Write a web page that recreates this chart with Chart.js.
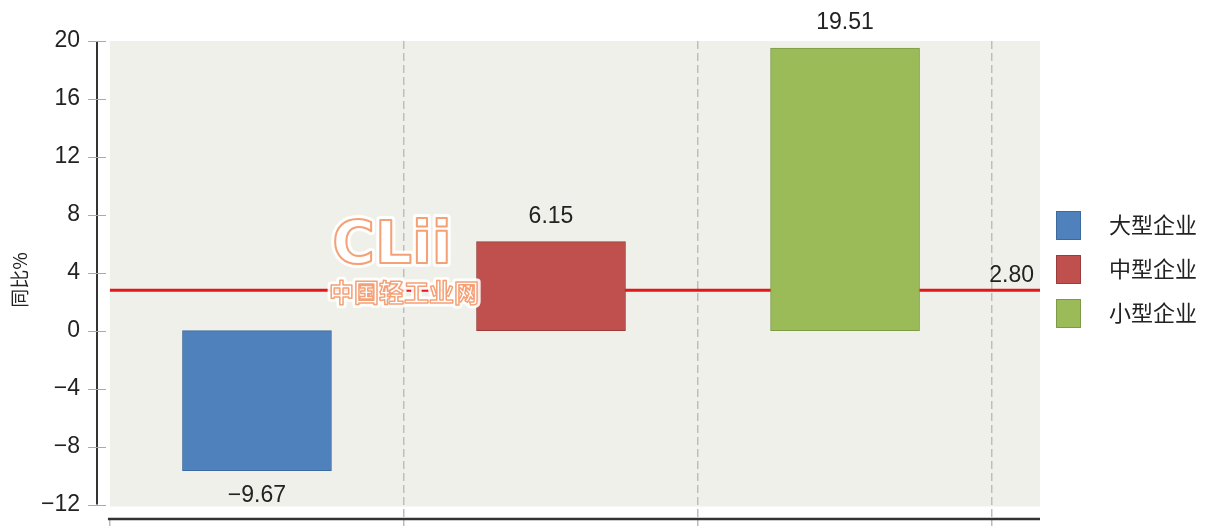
<!DOCTYPE html>
<html>
<head>
<meta charset="utf-8">
<script src="https://cdn.jsdelivr.net/npm/chart.js@4.4.0/dist/chart.umd.min.js"></script>
<style>
    html, body { margin: 0; padding: 0; background: #fff; }
    #wrap { width: 1212px; height: 529px; }
</style>
</head>
<body>
<div id="wrap"><canvas id="growthChart" width="1212" height="529"></canvas></div>
<script>
// Chart data
const categories = ['大型企业', '中型企业', '小型企业'];
const growthValues = [-9.67, 6.15, 19.51];
const categoryPositions = [0.5, 1.5, 2.5];
const averageValue = 2.80;
const yTicks = [-12, -8, -4, 0, 4, 8, 12, 16, 20];
const xTicks = [0, 1, 2, 3];
const barColors = ['#4f81bd', '#c0504d', '#9bbb59'];
const barBorders = ['#3d6a9e', '#9c3c3a', '#7d9a45'];
const yAxisTitle = '同比%';

// Axis ranges
const yMin = -13, yMax = 20;
const xMin = -0.044, xMax = 3.163;

const numFont = "'Liberation Sans', sans-serif";
const cjkFont = "'Noto Sans CJK SC', sans-serif";

// Grey plot area, starts at x = 0
const plotBackground = {
    id: 'plotBackground',
    beforeDraw(chart) {
        const { ctx, chartArea, scales: { x, y } } = chart;
        ctx.save();
        ctx.fillStyle = '#f0f0ea';
        const left = x.getPixelForValue(0);
        ctx.fillRect(left, chartArea.top, chartArea.right - left, y.getPixelForValue(-12) + 2 - chartArea.top);
        ctx.restore();
    }
};

// Separate y and x axis lines with crossing tick marks
const axisLines = {
    id: 'axisLines',
    afterDraw(chart) {
        const { ctx, chartArea, scales: { x, y } } = chart;
        ctx.save();
        ctx.strokeStyle = '#333';
        ctx.lineWidth = 2;
        ctx.beginPath();
        ctx.moveTo(chartArea.left, y.getPixelForValue(yTicks[yTicks.length - 1]));
        ctx.lineTo(chartArea.left, y.getPixelForValue(yTicks[0]));
        ctx.stroke();

        ctx.strokeStyle = '#aaa';
        ctx.lineWidth = 1;
        yTicks.forEach(v => {
            const py = Math.round(y.getPixelForValue(v)) + 0.5;
            ctx.beginPath();
            ctx.moveTo(chartArea.left - 9, py);
            ctx.lineTo(chartArea.left + 9, py);
            ctx.stroke();
        });

        ctx.strokeStyle = '#333';
        ctx.lineWidth = 2.5;
        ctx.beginPath();
        ctx.moveTo(x.getPixelForValue(0) - 2, chartArea.bottom);
        ctx.lineTo(chartArea.right, chartArea.bottom);
        ctx.stroke();
        ctx.restore();
    }
};

// Value labels, average label, watermark and legend
const annotations = {
    id: 'annotations',
    afterDatasetsDraw(chart) {
        const { ctx, chartArea, scales: { y } } = chart;
        ctx.save();
        ctx.fillStyle = '#222';
        ctx.font = '23px ' + numFont;
        ctx.textAlign = 'center';
        ctx.textBaseline = 'middle';
        growthValues.forEach((v, i) => {
            const bar = chart.getDatasetMeta(i + 1).data[0];
            const py = v >= 0 ? bar.y - 25 : bar.y + 25;
            ctx.fillText(v.toFixed(2).replace('-', '\u2212'), bar.x, py);
        });

        // average line label
        ctx.textAlign = 'right';
        ctx.textBaseline = 'bottom';
        ctx.fillText(averageValue.toFixed(2), chartArea.right - 6, y.getPixelForValue(averageValue) - 3);

        // watermark
        const wx = 392;
        ctx.textAlign = 'center';
        ctx.textBaseline = 'middle';
        ctx.lineJoin = 'round';
        ctx.font = "bold 58px 'DejaVu Sans', sans-serif";
        ctx.strokeStyle = 'rgba(255,255,255,0.9)';
        ctx.lineWidth = 8;
        ctx.strokeText('CLii', wx, 248);
        ctx.fillStyle = '#fff';
        ctx.fillText('CLii', wx, 248);
        ctx.strokeStyle = '#f5a177';
        ctx.lineWidth = 2;
        ctx.strokeText('CLii', wx, 248);

        ctx.font = 'bold 25px ' + cjkFont;
        ctx.strokeStyle = 'rgba(255,255,255,0.9)';
        ctx.lineWidth = 7;
        ctx.strokeText('中国轻工业网', wx + 12, 292);
        ctx.fillStyle = '#fff';
        ctx.fillText('中国轻工业网', wx + 12, 292);
        ctx.strokeStyle = '#f5a177';
        ctx.lineWidth = 1.5;
        ctx.strokeText('中国轻工业网', wx + 12, 292);

        // legend
        const lx = chartArea.right + 16;
        ctx.font = '22px ' + cjkFont;
        ctx.textAlign = 'left';
        categories.forEach((name, i) => {
            const cy = 225 + i * 44;
            ctx.fillStyle = barColors[i];
            ctx.fillRect(lx, cy - 14, 25, 29);
            ctx.strokeStyle = barBorders[i];
            ctx.lineWidth = 1;
            ctx.strokeRect(lx + 0.5, cy - 13.5, 24, 28);
            ctx.fillStyle = '#222';
            ctx.fillText(name, lx + 53, cy);
        });
        ctx.restore();
    }
};

const datasets = [{
    type: 'line',
    label: '平均',
    data: [{ x: 0, y: averageValue }, { x: xMax, y: averageValue }],
    borderColor: '#e3161b',
    borderWidth: 3,
    pointRadius: 0,
    order: 10
}];
categories.forEach((name, i) => {
    datasets.push({
        type: 'bar',
        label: name,
        data: [{ x: categoryPositions[i], y: growthValues[i] }],
        backgroundColor: barColors[i],
        borderColor: barBorders[i],
        borderWidth: 1,
        borderSkipped: false,
        barThickness: 149,
        grouped: false,
        order: 1
    });
});

new Chart(document.getElementById('growthChart'), {
    data: { datasets: datasets },
    options: {
        responsive: false,
        animation: false,
        layout: { padding: { left: 0, top: 41, right: 172, bottom: 10 } },
        plugins: {
            legend: { display: false },
            tooltip: { enabled: false }
        },
        scales: {
            x: {
                type: 'linear',
                offset: false,
                min: xMin,
                max: xMax,
                afterBuildTicks: scale => { scale.ticks = xTicks.map(v => ({ value: v })); },
                afterFit: scale => {
                    scale.height = 0;
                    scale.paddingLeft = 0;
                    scale.paddingRight = 0;
                },
                ticks: { display: false },
                border: { display: false, dash: [8, 4] },
                grid: {
                    offset: false,
                    color: c => (c.tick && c.tick.value === 0) ? 'rgba(0,0,0,0)' : '#bdbdbd',
                    tickColor: '#bbb',
                    tickLength: 7,
                    lineWidth: 1.5
                }
            },
            y: {
                min: yMin,
                max: yMax,
                afterBuildTicks: scale => { scale.ticks = yTicks.map(v => ({ value: v })); },
                afterFit: scale => {
                    scale.width = 97;
                    scale.paddingTop = 0;
                    scale.paddingBottom = 0;
                },
                border: { display: false },
                grid: { display: false, drawTicks: false },
                ticks: {
                    padding: 17,
                    color: '#222',
                    font: { family: numFont, size: 23 },
                    callback: v => String(v).replace('-', '\u2212')
                },
                title: {
                    display: true,
                    text: yAxisTitle,
                    color: '#222',
                    font: { family: cjkFont, size: 19 },
                    padding: { top: 8, bottom: 0 }
                }
            }
        }
    },
    plugins: [plotBackground, axisLines, annotations]
});
</script>
</body>
</html>
